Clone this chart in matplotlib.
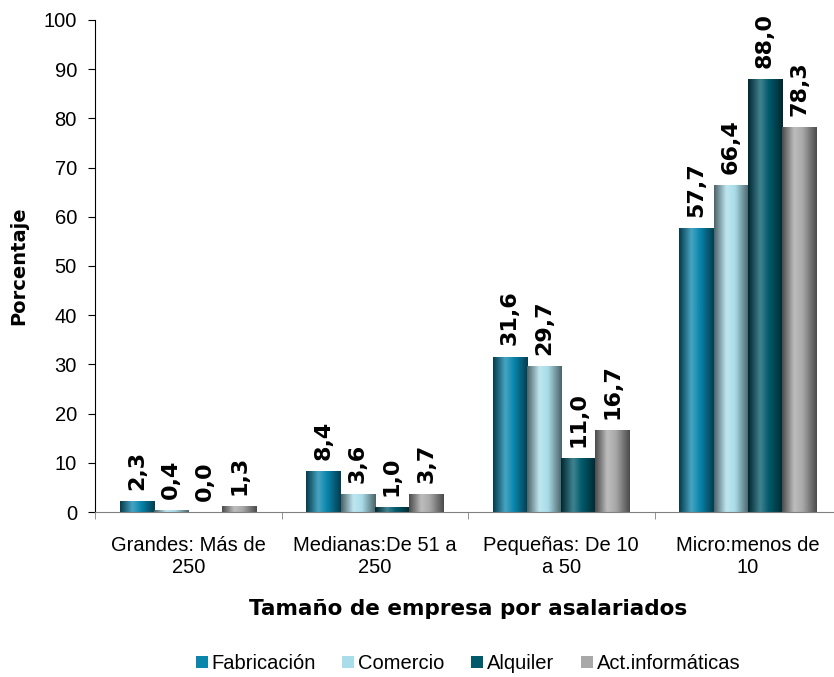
import matplotlib
matplotlib.use("Agg")
import matplotlib.pyplot as plt
import numpy as np
from matplotlib.colors import LinearSegmentedColormap, to_rgb

categories = ["Grandes: Más de\n250", "Medianas:De 51 a\n250", "Pequeñas: De 10\na 50", "Micro:menos de\n10"]
series = ["Fabricación", "Comercio", "Alquiler", "Act.informáticas"]
fabricacion = [2.3, 8.4, 31.6, 57.7]
comercio = [0.4, 3.6, 29.7, 66.4]
alquiler = [0.0, 1.0, 11.0, 88.0]
act_inf = [1.3, 3.7, 16.7, 78.3]
values = [fabricacion, comercio, alquiler, act_inf]
colors = ["#0a86ad", "#a9dde9", "#005a6b", "#a8a8a8"]

fig = plt.figure(figsize=(8.34, 6.77), dpi=100)
ax = fig.add_axes([95 / 834, 0.2437, 746 / 834, 0.7268])

n = len(series)
group_w = 0.734
bw = group_w / n
x = np.arange(len(categories))

def grad_cmap(c):
    r = np.array(to_rgb(c))
    dark = r * 0.45
    light = np.clip(r + (1 - r) * 0.25, 0, 1)
    return LinearSegmentedColormap.from_list("g", [(0, dark), (0.35, light), (0.6, r), (1, dark)])

for i, (name, vals, col) in enumerate(zip(series, values, colors)):
    pos = x - group_w / 2 + bw * (i + 0.5)
    bars = ax.bar(pos, vals, width=bw, color=col, label=name, zorder=2)
    cm = grad_cmap(col)
    for b, v in zip(bars, vals):
        x0, w, h = b.get_x(), b.get_width(), b.get_height()
        if h > 0:
            img = ax.imshow(np.linspace(0, 1, 64).reshape(1, -1), cmap=cm, aspect="auto",
                            extent=(x0, x0 + w, 0, h), zorder=2.5, interpolation="bicubic")
            img.set_clip_path(b)
        ax.annotate(f"{v:.1f}".replace(".", ","), (x0 + w / 2, h), xytext=(0, 8),
                    textcoords="offset points", rotation=90,
                    ha="center", va="bottom", fontsize=16, fontweight="bold",
                    family="DejaVu Sans")

ax.set_xlim(-0.5, len(categories) - 0.5)
ax.set_ylim(0, 100)
ax.set_yticks(np.arange(0, 101, 10))
ax.set_xticks(x)
ax.set_xticklabels(categories, fontsize=14.5, family="Liberation Sans")
ax.set_xticks(np.arange(-0.5, len(categories), 1), minor=True)
ax.tick_params(axis="x", which="major", length=0, pad=17)
ax.tick_params(axis="x", which="minor", length=5, color="#808080")
ax.tick_params(axis="y", labelsize=14.5, length=5, color="black", pad=8)
for lab in ax.get_yticklabels():
    lab.set_family("Liberation Sans")
for s in ["top", "right"]:
    ax.spines[s].set_visible(False)
ax.spines["left"].set_color("black")
ax.spines["bottom"].set_color("#808080")

ax.set_ylabel("Porcentaje", fontsize=14, fontweight="bold", family="DejaVu Sans", labelpad=11)
ax.set_xlabel("Tamaño de empresa por asalariados", fontsize=15.5, fontweight="bold",
              family="DejaVu Sans", labelpad=16)

leg = ax.legend(loc="upper center", bbox_to_anchor=(0.5, -0.252), ncol=4, frameon=False,
                handlelength=0.6, handleheight=0.6, handletextpad=0.2, columnspacing=1.3,
                prop={"family": "Liberation Sans", "size": 14.5})

fig.savefig("out.png", dpi=100)
